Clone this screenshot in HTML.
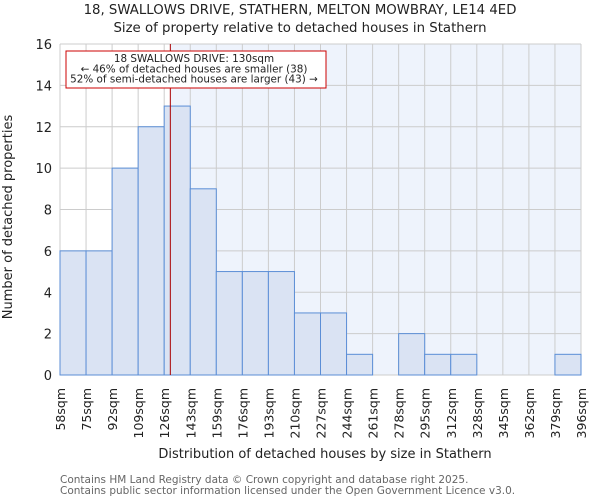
<!DOCTYPE html>
<html><head><meta charset="utf-8"><style>
body{margin:0;background:#fff;font-family:"DejaVu Sans","Liberation Sans",sans-serif;}
svg text{font-family:"DejaVu Sans","Liberation Sans",sans-serif;}
</style></head><body>
<svg id="c" width="600" height="500" xmlns="http://www.w3.org/2000/svg">
<text x="300" y="14" text-anchor="middle" font-size="13.3" fill="#222">18, SWALLOWS DRIVE, STATHERN, MELTON MOWBRAY, LE14 4ED</text>
<text x="300" y="32" text-anchor="middle" font-size="13.3" fill="#222">Size of property relative to detached houses in Stathern</text>
<g id="plot"></g>
<text x="325" y="458" text-anchor="middle" font-size="13" fill="#222">Distribution of detached houses by size in Stathern</text>
<text transform="translate(12,217) rotate(-90)" text-anchor="middle" font-size="13" fill="#222">Number of detached properties</text>
<text x="60" y="483" font-size="10.5" fill="#666">Contains HM Land Registry data © Crown copyright and database right 2025.</text>
<text x="60" y="494" font-size="10.5" fill="#666">Contains public sector information licensed under the Open Government Licence v3.0.</text>
</svg>
<script>
const edges=["58sqm","75sqm","92sqm","109sqm","126sqm","143sqm","159sqm","176sqm","193sqm","210sqm","227sqm","244sqm","261sqm","278sqm","295sqm","312sqm","328sqm","345sqm","362sqm","379sqm","396sqm"];
const counts=[6,6,10,12,13,9,5,5,5,3,3,1,0,2,1,1,0,0,0,1];
const yTicks=[0,2,4,6,8,10,12,14,16];
const propertyBin=4+4/17;
const NS="http://www.w3.org/2000/svg";
const L=60,R=581,T=44,B=375,yMax=16;
const bw=(R-L)/counts.length;
const x=i=>L+i*bw;
const y=v=>B-(v/yMax)*(B-T);
const g=document.getElementById('plot');
function mk(t,a){const e=document.createElementNS(NS,t);for(const k in a)e.setAttribute(k,a[k]);g.appendChild(e);return e;}
const px=x(propertyBin);
let e=mk('rect',{x:px,y:T,width:R-px,height:B-T,fill:'#eef3fc'});


yTicks.forEach(v=>{
 let l=mk('line',{x1:L,x2:R,y1:y(v),y2:y(v),stroke:'#cccccc','stroke-width':1});
 
 
 let t=mk('text',{x:L-8,y:y(v)+5,'text-anchor':'end','font-size':13,fill:'#222'});
 t.textContent=v;
 
 
});
edges.forEach((s,i)=>{
 let l=mk('line',{x1:x(i),x2:x(i),y1:T,y2:B,stroke:'#cccccc','stroke-width':1});
 
 
 let t=mk('text',{transform:`translate(${x(i)+5},388) rotate(-90)`,'text-anchor':'end','font-size':12.5,fill:'#222'});
 t.textContent=s;
 
 
});
counts.forEach((c,i)=>{
 if(c<=0)return;
 let r=mk('rect',{x:x(i),y:y(c),width:bw,height:B-y(c),fill:'#dae3f3',stroke:'#5b8ed6','stroke-width':1});
 
 
});
let pl=mk('line',{x1:px,x2:px,y1:T,y2:B,stroke:'#aa0000','stroke-width':1});


let box=mk('rect',{x:66,y:51,width:260,height:37,fill:'#fff',stroke:'#cc0000','stroke-width':1});


["18 SWALLOWS DRIVE: 130sqm","← 46% of detached houses are smaller (38)","52% of semi-detached houses are larger (43) →"].forEach((s,i)=>{
 let t=mk('text',{x:194,y:62+i*10.3,'text-anchor':'middle','font-size':10.4,fill:'#222'});
 t.textContent=s;
 
 
});
</script>
</body></html>
